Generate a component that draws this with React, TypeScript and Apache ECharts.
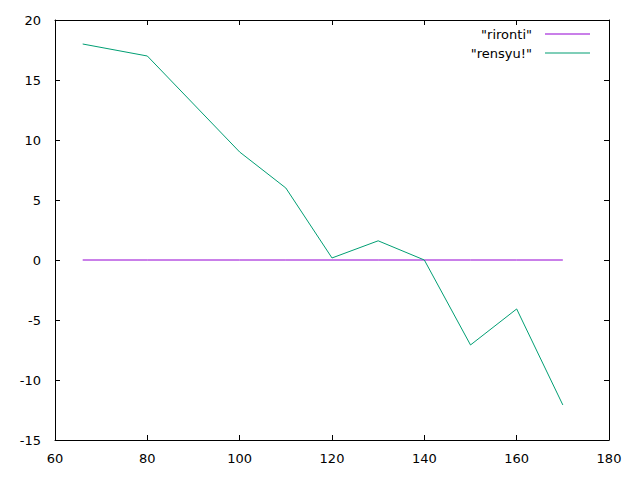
import React, { useEffect, useRef } from "react";
import * as echarts from "echarts";

const xValues = [66, 80, 100, 110, 120, 130, 140, 150, 160, 170];
const rensyu = [18, 17, 9, 6, 0.17, 1.6, 0, -7.08, -4.08, -12.08];
const rironti = [0, 0, 0, 0, 0, 0, 0, 0, 0, 0];
const seriesNames = ['"rironti"', '"rensyu!"'];

export default function App() {
  const ref = useRef<HTMLDivElement>(null);
  useEffect(() => {
    if (!ref.current) return;
    const chart = echarts.init(ref.current, null, { renderer: "svg" });
    const font = "'DejaVu Sans', sans-serif";
    const axisCommon = {
      axisLine: { show: true, onZero: false, lineStyle: { color: "#000", width: 1 } },
      axisTick: { show: true, inside: true, length: 5, lineStyle: { color: "#000" } },
      splitLine: { show: false },
    };
    chart.setOption({
      animation: false,
      backgroundColor: "#fff",
      textStyle: { fontFamily: font },
      grid: { left: 55, right: 31, top: 20, bottom: 40, containLabel: false },
      legend: {
        orient: "vertical",
        right: 45,
        top: 21.5,
        align: "right",
        itemWidth: 45,
        itemHeight: 1.5,
        itemGap: 4,
        icon: "path://M0,0H45V1H0Z",
        textStyle: {
          fontSize: 13,
          lineHeight: 15,
          color: "#000",
          fontFamily: font,
          padding: [0, 8, 0, 0],
        },
        data: seriesNames,
      },
      xAxis: [
        {
          type: "value",
          min: 60,
          max: 180,
          interval: 20,
          position: "bottom",
          ...axisCommon,
          axisLabel: { color: "#000", fontSize: 13, margin: 12, fontFamily: font },
        },
        {
          type: "value",
          min: 60,
          max: 180,
          interval: 20,
          position: "top",
          ...axisCommon,
          axisLabel: { show: false },
        },
      ],
      yAxis: [
        {
          type: "value",
          min: -15,
          max: 20,
          interval: 5,
          position: "left",
          ...axisCommon,
          axisLabel: { color: "#000", fontSize: 13, margin: 14, fontFamily: font },
        },
        {
          type: "value",
          min: -15,
          max: 20,
          interval: 5,
          position: "right",
          ...axisCommon,
          axisLabel: { show: false },
        },
      ],
      series: [
        {
          name: seriesNames[0],
          type: "line",
          data: xValues.map((x, i) => [x, rironti[i]]),
          showSymbol: false,
          lineStyle: { color: "#9400d3", width: 1 },
          itemStyle: { color: "#9400d3" },
        },
        {
          name: seriesNames[1],
          type: "line",
          data: xValues.map((x, i) => [x, rensyu[i]]),
          showSymbol: false,
          lineStyle: { color: "#009e73", width: 1 },
          itemStyle: { color: "#009e73" },
        },
      ],
    });
    return () => chart.dispose();
  }, []);
  return (
    <div
      ref={ref}
      style={{ position: "fixed", left: 0, top: 0, width: 640, height: 480, background: "#fff" }}
    />
  );
}
